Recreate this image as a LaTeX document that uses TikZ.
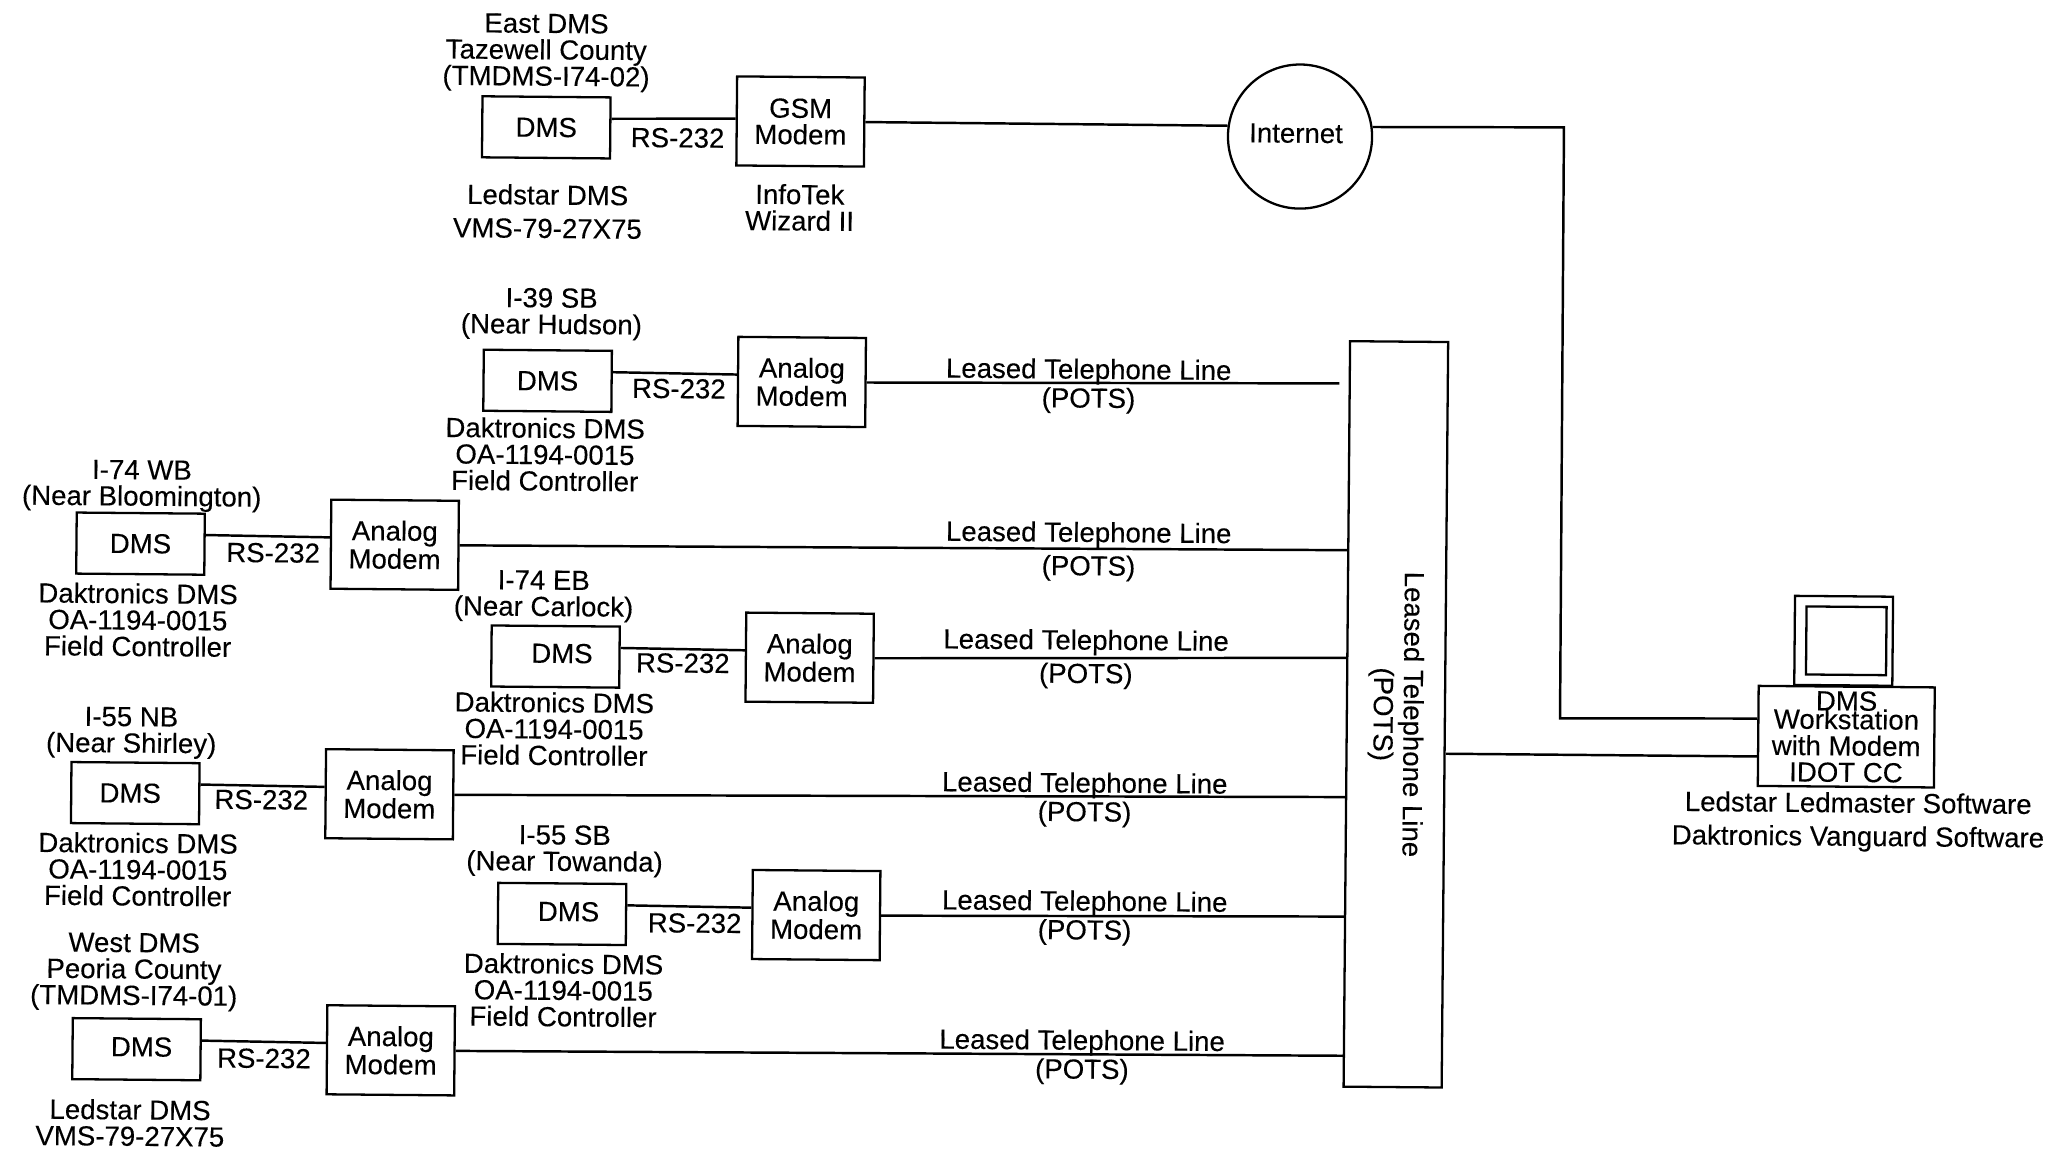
\documentclass[tikz,border=0pt]{standalone}
\usepackage{fontspec}
\setmainfont[FakeBold=0.2]{Liberation Sans}
\usetikzlibrary{positioning}

\newcommand{\dmslabel}[2]{\hspace*{#1}\raisebox{#2}{DMS}}

\tikzset{
	every node/.append style={rotate=-0.5, font=\fontsize{7.85}{7.5}\selectfont, align=center, inner sep=0pt},
	dmsbox/.style={draw, line width=0.65pt, minimum width=1.28cm, minimum height=0.61cm},
	modembox/.style={draw, line width=0.65pt, minimum width=1.275cm, minimum height=0.89cm},
	link/.style={line width=0.7pt},
}

\begin{document}
\begin{tikzpicture}[x=0.01313cm, y=-0.01313cm, node distance=1.24cm]
	\useasboundingbox (0,0) rectangle (1568,879);

	\node[dmsbox] (dmsA) at (416,97) {DMS};
	\node[modembox, right=of dmsA, yshift=0.07cm] (modemA) {GSM\\Modem};
	\node[dmsbox] (dmsB) at (417,290) {DMS};
	\node[modembox, right=of dmsB] (modemB) {Analog\\[0.5pt]Modem};
	\node[dmsbox] (dmsC) at (107,414) {DMS};
	\node[modembox, right=of dmsC] (modemC) {Analog\\[0.5pt]Modem};
	\node[dmsbox] (dmsD) at (423,500) {\dmslabel{0.13cm}{0.066cm}};
	\node[modembox, right=of dmsD] (modemD) {Analog\\[0.5pt]Modem};
	\node[dmsbox] (dmsE) at (103,604) {\dmslabel{-0.1cm}{0cm}};
	\node[modembox, right=of dmsE] (modemE) {Analog\\[0.5pt]Modem};
	\node[dmsbox] (dmsF) at (428,696) {\dmslabel{0.13cm}{0.05cm}};
	\node[modembox, right=of dmsF] (modemF) {Analog\\[0.5pt]Modem};
	\node[dmsbox] (dmsG) at (104,799) {\dmslabel{0.1cm}{0.05cm}};
	\node[modembox, right=of dmsG] (modemG) {Analog\\[0.5pt]Modem};

	\node[draw, circle, line width=0.65pt, minimum size=1.44cm] (internet) at (990,104) {\hspace*{-0.08cm}\raisebox{0.066cm}{Internet}};
	\node[draw, line width=0.65pt, rotate=-90, minimum width=7.45cm, minimum height=0.98cm] (pots) at (1063,544) {Leased Telephone Line\\[1pt](POTS)};

	\node[draw, line width=0.65pt, minimum width=0.98cm, minimum height=0.89cm] (monitor) at (1404,488) {};
	\node[draw, line width=0.65pt, minimum width=0.80cm, minimum height=0.68cm] (screen) at (1406,488) {};
	\node[draw, line width=0.65pt, minimum width=1.76cm, minimum height=1.0cm] (station) at (1406,561) {DMS\\[-2.2pt]Workstation\\with Modem\\IDOT CC};

	% site labels
	\node (eastname) at (416,40) {East DMS\\Tazewell County\\(TMDMS-I74-02)};
	\node (eastkind) at (417,161) {Ledstar DMS\\[2pt]VMS-79-27X75};
	\node (gsmkind) at (609,158) {InfoTek\\Wizard II};
	\node (nameB) at (420,239) {I-39 SB\\(Near Hudson)};
	\node (kindB) at (415,346) {Daktronics DMS\\OA-1194-0015\\Field Controller};
	\node (nameC) at (108,370) {I-74 WB\\(Near Bloomington)};
	\node (kindC) at (105,472) {Daktronics DMS\\OA-1194-0015\\Field Controller};
	\node (nameD) at (414,454) {I-74 EB\\(Near Carlock)};
	\node (kindD) at (422,555) {Daktronics DMS\\OA-1194-0015\\Field Controller};
	\node (nameE) at (100,558) {I-55 NB\\(Near Shirley)};
	\node (kindE) at (105,662) {Daktronics DMS\\OA-1194-0015\\Field Controller};
	\node (nameF) at (430,648) {I-55 SB\\(Near Towanda)};
	\node (kindF) at (429,754) {Daktronics DMS\\OA-1194-0015\\Field Controller};
	\node (nameG) at (102,740) {West DMS\\Peoria County\\(TMDMS-I74-01)};
	\node (kindG) at (99,855) {Ledstar DMS\\VMS-79-27X75};
	\node (software) at (1415,626) {Ledstar Ledmaster Software\\[2pt]Daktronics Vanguard Software};

	\node (rsA) at (516,105) {RS-232};
	\node (rsB) at (517,296) {RS-232};
	\node (rsC) at (208,421) {RS-232};
	\node (rsD) at (520,505) {RS-232};
	\node (rsE) at (199,609) {RS-232};
	\node (rsF) at (529,703) {RS-232};
	\node (rsG) at (201,806) {RS-232};

	\node (lineB) at (829,294) {Leased Telephone Line\\[0.7pt](POTS)};
	\node (lineC) at (829,420) {Leased Telephone Line\\[2pt](POTS)};
	\node (lineD) at (827,502) {Leased Telephone Line\\[2pt](POTS)};
	\node (lineE) at (826,609) {Leased Telephone Line\\[0.7pt](POTS)};
	\node (lineF) at (826,699) {Leased Telephone Line\\[0.7pt](POTS)};
	\node (lineG) at (824,805) {Leased Telephone Line\\[0.7pt](POTS)};

	% where the lines meet the tall box
	\coordinate (potsB) at (1020,292);
	\coordinate (potsC) at (1027,419);
	\coordinate (potsD) at (1026,501);
	\coordinate (potsE) at (1025,607);
	\coordinate (potsF) at (1024,698);
	\coordinate (potsG) at (1023,804);
	\coordinate (potsout) at (1101,574);
	\coordinate (nettop) at (1191,97);
	\coordinate (netlow) at (1188,547);

	\draw [link]
		(dmsA.8) edge (modemA.178)
		(dmsB.8) edge (modemB.174)
		(dmsC.8) edge (modemC.174)
		(dmsD.8) edge (modemD.174)
		(dmsE.8) edge (modemE.174)
		(dmsF.8) edge (modemF.174)
		(dmsG.8) edge (modemG.174)

		(modemA.east) edge (internet.172)
		(modemB.east) edge (potsB)
		(modemC.east) edge (potsC)
		(modemD.east) edge (potsD)
		(modemE.east) edge (potsE)
		(modemF.east) edge (potsF)
		(modemG.east) edge (potsG)

		(potsout) edge (station.193)
		;
	\draw [link] (internet.8) -- (nettop) -- (netlow) -- (station.169);
\end{tikzpicture}
\end{document}
